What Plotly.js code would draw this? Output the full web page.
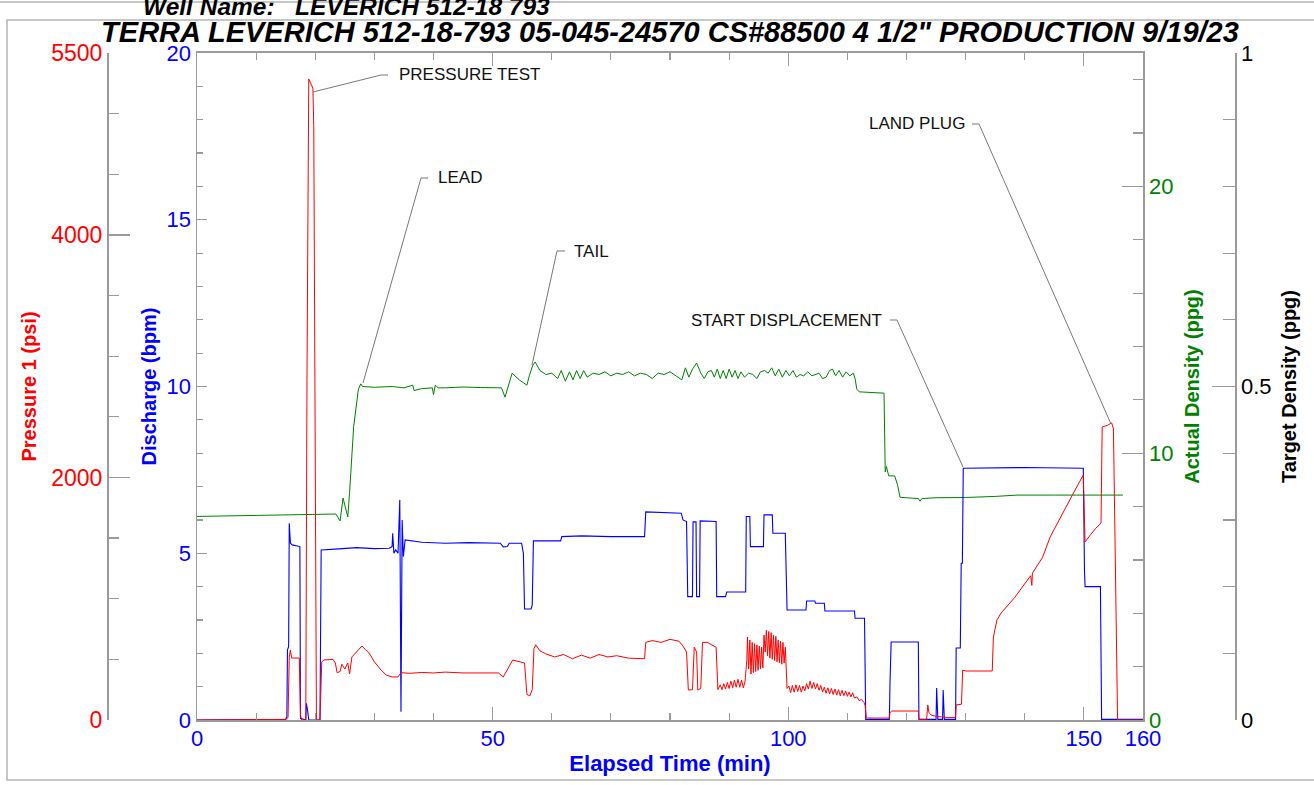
<!DOCTYPE html>
<html>
<head>
<meta charset="utf-8">
<script src="https://cdn.plot.ly/plotly-3.0.1.min.js"></script>
<style>html,body{margin:0;padding:0;background:#fff;}#chart{width:1314px;height:785px;}</style>
</head>
<body>
<div id="chart"></div>
<script>
// ---------------- DATA ----------------
const dischargeTime = [0,5,10,15.0,15.2,15.3,15.5,15.6,15.8,16.1,
  17.4,17.5,18.4,18.5,18.7,18.9,20.8,21.0,24,27,
  30,32.5,33.0,33.1,33.3,33.6,34.0,34.3,34.5,34.7,
  34.9,35.2,38,42,46,51.3,51.8,52.5,52.8,54.9,
  55.2,55.4,56.5,56.7,56.9,61.5,61.7,65,70,75.7,
  75.9,79,81.9,82.2,82.8,83.0,83.8,83.9,84.4,84.5,
  85.0,85.1,87.8,87.9,89.4,89.6,92.8,92.9,93.5,93.6,
  95.8,95.9,97.3,97.4,99.5,99.8,103.0,103.1,104.5,104.6,
  106.1,106.2,111.2,111.3,112.9,113.1,117.1,117.2,117.4,122.0,
  122.1,125.0,125.1,125.3,126.1,126.2,126.4,128.3,128.4,129.1,
  129.25,129.45,129.6,140,149.9,150.1,150.2,152.8,153.0,160];
const dischargeBpm = [0,0.01,0.02,0.02,0.1,2.1,2.2,5.9,5.3,5.25,
  5.2,0.05,0,0.5,0.3,0,0,5.1,5.13,5.17,
  5.14,5.15,5.2,5.6,5.0,5.1,5.0,6.6,0.25,6.0,
  4.9,5.4,5.33,5.3,5.32,5.3,5.19,5.2,5.3,5.3,
  5.0,3.33,3.33,3.45,5.37,5.37,5.5,5.52,5.5,5.5,
  6.24,6.22,6.2,6.0,5.95,3.7,3.7,5.94,5.94,3.7,
  3.7,5.97,5.95,3.7,3.7,3.84,3.84,6.1,6.1,5.2,
  5.2,6.15,6.15,5.6,5.6,3.3,3.3,3.57,3.57,3.5,
  3.5,3.27,3.27,3.05,3.05,0.02,0.02,1.05,2.34,2.34,
  0.02,0.02,0.96,0.02,0.02,0.9,0.02,0.02,2.16,2.16,
  4.7,4.7,7.55,7.57,7.55,4.5,4.0,4.0,0.02,0.02];

const pressureTime = [0,10,15.0,15.4,15.6,15.8,16.0,17.3,17.5,17.7,
  18.4,18.6,18.9,19.6,19.75,20.2,20.8,21.1,21.5,23.0,
  23.4,23.7,24.2,24.5,25.0,25.5,25.8,26.2,27.0,27.9,
  28.5,29.0,30.0,31.0,32.0,33.0,34.0,34.5,36,38,
  40,42,45,48,51,51.8,52.5,53.4,55.4,55.8,
  56.3,56.7,57.0,57.3,58,59,60.5,62,63.5,65,
  66.5,68,69.5,71,73,75.7,75.9,77,78.5,80,
  81.5,82.2,82.8,83.1,83.8,84.1,84.5,84.7,85.2,85.5,
  86.3,87.0,87.8,88.1,88.5,88.8,89.1,89.4,89.7,90,
  90.3,90.6,90.9,91.2,91.5,91.8,92.1,92.4,92.7,93.0,
  93.1,93.3,93.5,93.7,93.9,94.1,94.3,94.5,94.7,94.9,
  95.1,95.3,95.5,95.7,95.9,96.1,96.3,96.5,96.7,96.9,
  97.1,97.3,97.5,97.7,97.9,98.1,98.3,98.5,98.7,98.9,
  99.1,99.3,99.5,99.8,100.1,100.4,100.7,101,101.3,101.6,
  101.9,102.2,102.5,102.8,103.1,103.4,103.7,104,104.3,104.6,
  104.9,105.2,105.5,105.8,106.1,106.4,106.7,107,107.3,107.6,
  107.9,108.2,108.5,108.8,109.1,109.4,109.7,110,110.3,110.6,
  110.9,111.2,111.6,112.0,112.4,112.8,113.0,113.2,117.1,117.2,
  117.5,122.0,122.1,123.4,123.6,123.8,124.2,125,126,127,
  128.3,128.4,129.3,129.5,130,134.5,134.7,135.3,136.0,138.3,
  141.0,141.2,141.3,143,144.3,146.8,148,149.9,150.2,151,
  152,152.9,153.1,154.0,154.7,155.0,155.7,160];
const pressurePsi = [0,2,5,20,520,577,511,511,40,0,
  0,2800,5286,5211,4900,0,0,480,495,500,
  470,390,400,460,420,470,380,520,560,610,
  580,560,480,420,370,355,355,390,385,392,
  388,395,388,390,388,355,420,495,470,210,
  200,250,590,620,570,545,520,540,505,535,
  510,540,520,530,510,505,640,655,640,665,
  650,610,560,247,250,600,560,247,260,640,
  640,620,600,250,290,250,300,255,310,260,
  320,265,330,270,335,270,330,265,320,500,
  684,420,660,380,640,390,630,400,620,410,
  610,420,600,430,700,560,740,530,730,510,
  720,500,700,490,690,480,660,470,650,460,
  640,470,600,260,280,225,285,230,290,235,
  285,230,280,240,300,255,320,260,310,255,
  300,245,285,230,270,220,265,215,260,210,
  255,205,250,200,245,200,240,195,230,190,
  225,180,190,160,170,145,120,16,16,60,
  74,74,5,5,124,60,40,30,25,20,
  20,124,130,412,404,404,684,825,882,1010,
  1190,1110,1212,1340,1509,1748,1850,2020,1468,1520,
  1580,1624,2416,2430,2450,2400,0,0];

const densityTime = [0,5,10,15,20,23.5,24.2,24.7,25.5,25.8,
  26.5,27.3,27.7,28.0,30,33,35,36.5,36.7,38,
  39.8,40.0,40.3,40.8,42,45,48,51.5,52.1,53.3,
  54.5,55.8,56.2,56.8,57.2,58,59,60,61,61.6,
  62.3,63,63.6,64.2,64.8,65.4,66,67,68,69,
  70,71,72,73,74,75,76,77,78,79,
  80,81,82,82.6,83.2,83.8,84.5,85.2,85.8,86.4,
  87,87.5,88,88.5,89,89.5,90,90.5,91,91.5,
  92,92.6,93.3,94,94.7,95.3,96,96.6,97.2,97.8,
  98.4,99,99.6,100.2,100.8,101.4,102,102.6,103.3,104,
  104.6,105.2,105.8,106.4,107,107.5,108,108.6,109.2,109.8,
  110.4,111,111.3,111.6,112,116.2,116.4,116.6,117.0,118.0,
  118.5,118.9,120,122,122.3,122.6,125,130,135,138.7,
  145,150,156.6];
const densityPpg = [7.63,7.65,7.67,7.7,7.72,7.72,7.46,8.32,7.61,8.5,
  11.0,12.4,12.6,12.5,12.47,12.5,12.45,12.55,12.35,12.42,
  12.45,12.2,12.55,12.45,12.45,12.48,12.46,12.45,12.1,13.0,
  12.75,12.55,12.9,13.3,13.42,13.1,12.95,13.0,12.8,13.1,
  12.7,13.05,12.75,13.1,12.8,13.1,12.85,13.0,12.95,13.05,
  12.9,13.0,12.95,13.05,12.9,13.0,12.95,12.8,13.0,12.95,
  13.05,12.9,12.75,13.2,12.85,13.15,13.38,13.0,12.8,13.05,
  13.1,12.85,13.15,12.8,13.1,12.8,13.15,12.85,13.1,12.8,
  13.05,12.85,13.0,12.95,12.8,13.05,13.1,13.0,13.2,12.9,
  13.15,12.85,13.1,12.9,13.1,12.85,12.95,12.9,13.05,12.9,
  12.95,13.0,12.8,12.85,13.1,13.15,12.9,13.1,12.85,13.05,
  12.9,13.0,12.8,12.4,12.3,12.25,9.3,9.5,9.15,9.15,
  8.8,8.35,8.33,8.3,8.2,8.3,8.33,8.34,8.38,8.43,
  8.43,8.43,8.43];

const timeTickVals = [0,50,100,150,160];
const timeMinorVals = [10,20,30,40,60,70,80,90,110,120,130,140];
const pressureTickVals = [0,2000,4000,5500];
const pressureMinorVals = [500,1000,1500,2500,3000,3500,4500,5000];
const densityTickVals = [0,10,20];
const densityMinorVals = [2,4,6,8,12,14,16,18,22,24];
const targetTickVals = [0,0.5,1];
const targetTickText = ['0','0.5','1'];
const targetMinorVals = [0.1,0.2,0.3,0.4,0.6,0.7,0.8,0.9];

const chartTitle = 'TERRA LEVERICH 512-18-793 05-045-24570 CS#88500 4 1/2" PRODUCTION 9/19/23';
const wellName = 'Well Name:\u00a0\u00a0\u00a0LEVERICH 512-18 793';
const noteLabels = ['PRESSURE TEST','LEAD','TAIL','START DISPLACEMENT','LAND PLUG'];

// ---------------- LAYOUT HELPERS ----------------
const W = 1314, H = 785;
const ML = 10, MR = 10, MT = 53, MB = 65;
const PW = W - ML - MR, PH = H - MT - MB;
const px = p => (p - ML) / PW;          // pixel x -> paper x
const py = p => (H - MB - p) / PH;      // pixel y -> paper y
const FONT = 'Liberation Sans, Arial, sans-serif';
const GREY = '#9a9a9a';
const RED = '#ff0000', BLUE = '#0000ff', GREEN = '#008000';

// annotation placement (pixels): text anchor and leader line
const notePos = [
  {tx:397, ty:74, anchor:'left',  line:[[388,75],[381,75],[313,92]]},
  {tx:436, ty:178, anchor:'left', line:[[428,178],[421,178],[363,383]]},
  {tx:572, ty:251, anchor:'left', line:[[565,251],[557,251],[532,365]]},
  {tx:884, ty:320, anchor:'right',line:[[890,320],[897,320],[963,467]]},
  {tx:867, ty:124, anchor:'left', line:[[972,124],[979,124],[1111,424]]}
];

const annotations = noteLabels.map((t,i) => ({
  text: t, xref:'paper', yref:'paper', x: px(notePos[i].tx), y: py(notePos[i].ty),
  xanchor: notePos[i].anchor, yanchor:'middle', showarrow:false,
  font:{family:FONT, size:17, color:'#111'}
}));
annotations.push({
  text: wellName, xref:'paper', yref:'paper', x: px(346), y: py(6),
  xanchor:'center', yanchor:'middle', showarrow:false,
  font:{family:FONT, size:24.5, color:'#000', weight:'bold', style:'italic'}
});

const shapes = notePos.map(n => ({
  type:'path', xref:'paper', yref:'paper', layer:'above',
  path: 'M' + n.line.map(p => px(p[0]) + ',' + py(p[1])).join(' L'),
  line:{color:'#777', width:1}
}));
shapes.push({type:'rect', xref:'paper', yref:'paper', layer:'below',
  x0:px(7), x1:px(1318), y0:py(780), y1:py(20), line:{color:'#b5b5b5', width:1.5}});
shapes.push({type:'line', xref:'paper', yref:'paper', layer:'below',
  x0:px(-2), x1:px(1318), y0:py(2), y1:py(2), line:{color:'#b5b5b5', width:1.5}});

const traces = [
  {x: densityTime, y: densityPpg, type:'scatter', mode:'lines', yaxis:'y',
   line:{color:GREEN, width:1}, name:'Actual Density'},
  {x: dischargeTime, y: dischargeBpm, type:'scatter', mode:'lines', yaxis:'y2',
   line:{color:BLUE, width:1.1}, name:'Discharge'},
  {x: pressureTime, y: pressurePsi, type:'scatter', mode:'lines', yaxis:'y3',
   line:{color:RED, width:1}, name:'Pressure 1'}
];

const common = {showgrid:false, zeroline:false, showline:true, linecolor:GREY, linewidth:1.5,
  ticks:'inside', tickcolor:GREY, tickwidth:1.2, fixedrange:true};

const layout = {
  width:W, height:H, showlegend:false,
  paper_bgcolor:'#fff', plot_bgcolor:'#fff',
  margin:{l:ML, r:MR, t:MT, b:MB},
  font:{family:FONT},
  title:{text: chartTitle, xref:'container', yref:'container', x: 670/W, y: 1 - 32/H,
    xanchor:'center', yanchor:'middle',
    font:{family:FONT, size:29, color:'#000', weight:'bold', style:'italic'}},
  xaxis: Object.assign({}, common, {
    domain:[px(197), px(1143)], anchor:'y', range:[0,160], linewidth:2,
    mirror:'ticks', tickmode:'array', tickvals: timeTickVals, ticklen:13,
    ticklabelstandoff:-2,
    tickfont:{family:FONT, size:22, color:BLUE},
    minor:{tickmode:'array', tickvals: timeMinorVals, ticklen:7, ticks:'inside', tickcolor:GREY},
    title:{text:'Elapsed Time (min)', standoff:3, font:{family:FONT, size:22, color:BLUE, weight:'bold'}}
  }),
  yaxis: Object.assign({}, common, {   // Actual density (green), right edge of plot
    anchor:'x', side:'right', range:[0,25], tickmode:'array', tickvals: densityTickVals,
    ticklen:21, tickfont:{family:FONT, size:22, color:GREEN},
    minor:{tickmode:'array', tickvals: densityMinorVals, ticklen:10, ticks:'inside', tickcolor:GREY},
    title:{text:'Actual Density (ppg)', standoff:12, font:{family:FONT, size:20, color:GREEN, weight:'bold'}}
  }),
  yaxis2: Object.assign({}, common, {  // Discharge (blue), left edge of plot
    overlaying:'y', anchor:'x', side:'left', range:[0,20], tickmode:'linear', tick0:0, dtick:5,
    ticklen:10, tickfont:{family:FONT, size:22, color:BLUE},
    minor:{tickmode:'linear', tick0:0, dtick:1, ticklen:6, ticks:'inside', tickcolor:GREY},
    title:{text:'Discharge (bpm)', standoff:4, font:{family:FONT, size:20, color:BLUE, weight:'bold'}}
  }),
  yaxis3: Object.assign({}, common, {  // Pressure (red), free axis far left
    overlaying:'y', anchor:'free', position: px(107), side:'left', range:[0,5500],
    tickmode:'array', tickvals: pressureTickVals, ticklen:21,
    tickfont:{family:FONT, size:23, color:RED},
    minor:{tickmode:'array', tickvals: pressureMinorVals, ticklen:10, ticks:'inside', tickcolor:GREY},
    title:{text:'Pressure 1 (psi)', standoff:7, font:{family:FONT, size:20, color:RED, weight:'bold'}}
  }),
  yaxis4: Object.assign({}, common, {  // Target density (black), free axis far right
    overlaying:'y', anchor:'free', position: px(1235), side:'right', range:[0,1],
    tickmode:'array', tickvals: targetTickVals, ticktext: targetTickText, ticklen:23,
    tickfont:{family:FONT, size:22, color:'#000'},
    minor:{tickmode:'array', tickvals: targetMinorVals, ticklen:12, ticks:'inside', tickcolor:GREY},
    title:{text:'Target Density (ppg)', standoff:11, font:{family:FONT, size:20, color:'#000', weight:'bold'}}
  }),
  annotations: annotations,
  shapes: shapes
};

// an empty trace so the target-density axis is drawn
traces.push({x:[], y:[], type:'scatter', mode:'lines', yaxis:'y4', showlegend:false, hoverinfo:'skip'});

Plotly.newPlot('chart', traces, layout, {displayModeBar:false, staticPlot:true});
</script>
</body>
</html>
